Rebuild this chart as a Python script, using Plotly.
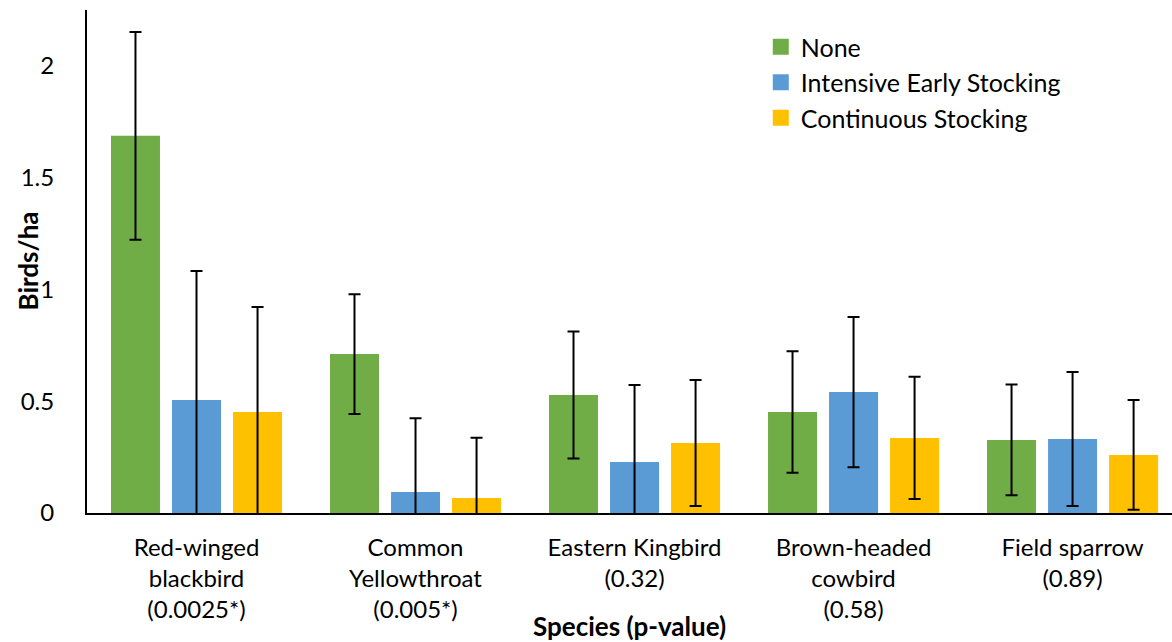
import plotly.graph_objects as go

categories = ["Red-winged<br>blackbird<br>(0.0025*)",
              "Common<br>Yellowthroat<br>(0.005*)",
              "Eastern Kingbird<br>(0.32)",
              "Brown-headed<br>cowbird<br>(0.58)",
              "Field sparrow<br>(0.89)"]
series_names = ["None", "Intensive Early Stocking", "Continuous Stocking"]
none_vals = [1.687, 0.711, 0.528, 0.452, 0.327]
none_err = [0.465, 0.268, 0.284, 0.272, 0.248]
intensive_vals = [0.506, 0.094, 0.228, 0.541, 0.331]
intensive_err = [0.577, 0.330, 0.345, 0.336, 0.300]
continuous_vals = [0.452, 0.067, 0.313, 0.336, 0.260]
continuous_err = [0.470, 0.270, 0.282, 0.273, 0.245]
colors = ["#70AD47", "#5B9BD5", "#FFC000"]
y_ticks = [0, 0.5, 1, 1.5, 2]

FONT = "Lato"
fig = go.Figure()
for name, vals, errs, col in zip(series_names,
                                 [none_vals, intensive_vals, continuous_vals],
                                 [none_err, intensive_err, continuous_err], colors):
    fig.add_trace(go.Bar(
        x=categories, y=vals, name=name, marker_color=col, marker_line_width=0,
        showlegend=False,
        error_y=dict(type="data", array=errs, visible=True, color="black",
                     thickness=2, width=6)))
for name, col in zip(series_names, colors):
    fig.add_trace(go.Scatter(
        x=[None], y=[None], mode="markers", name=name,
        marker=dict(symbol="square", size=16, color=col)))

fig.update_layout(
    width=1172, height=642,
    margin=dict(l=87, r=0, t=10, b=129),
    paper_bgcolor="white", plot_bgcolor="white",
    barmode="group", bargap=0.164, bargroupgap=0.197,
    font=dict(family=FONT, size=23, color="black"),
    legend=dict(x=0.621, y=0.972, xanchor="left", yanchor="top",
                font=dict(family=FONT, size=25, color="black"),
                bgcolor="rgba(0,0,0,0)", tracegroupgap=0),
    xaxis=dict(range=[-0.5, 4.454], showline=True, linecolor="black", linewidth=2,
               ticks="", showgrid=False, zeroline=False, automargin=False,
               ticklabelstandoff=12,
               tickfont=dict(family=FONT, size=24, color="black")),
    yaxis=dict(range=[0, 2.25], tickvals=y_ticks, ticktext=[str(v) for v in y_ticks],
               showline=True, linecolor="black", linewidth=2, ticks="",
               showgrid=False, zeroline=False, ticklabelstandoff=26, automargin=False,
               tickfont=dict(family=FONT, size=24, color="black")),
    annotations=[
        dict(text="<b>Species (p-value)</b>", xref="paper", yref="paper",
             x=0.5, y=0, yshift=-113, xanchor="center", yanchor="middle",
             showarrow=False, font=dict(family=FONT, size=26, color="black")),
        dict(text="<b>Birds/ha</b>", xref="paper", yref="paper",
             x=0, y=0.5, xshift=-60, xanchor="center", yanchor="middle",
             textangle=-90, showarrow=False,
             font=dict(family=FONT, size=26, color="black")),
    ],
)
fig.write_html("out.html", config={"displayModeBar": False},
               post_script="document.body.style.margin='0';")
